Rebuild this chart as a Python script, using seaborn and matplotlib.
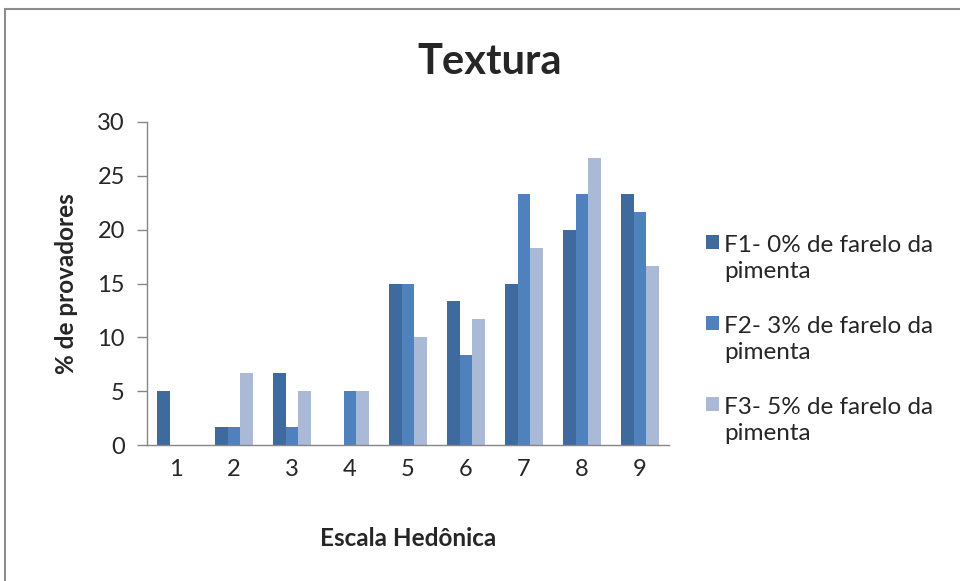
import matplotlib
matplotlib.use("Agg")
import matplotlib.pyplot as plt
import seaborn as sns
import pandas as pd
from matplotlib.patches import Rectangle, Patch
from matplotlib.legend_handler import HandlerPatch

escala = ["1", "2", "3", "4", "5", "6", "7", "8", "9"]
f1 = [5.0, 1.67, 6.67, 0.0, 15.0, 13.33, 15.0, 20.0, 23.33]
f2 = [0.0, 1.67, 1.67, 5.0, 15.0, 8.33, 23.33, 23.33, 21.67]
f3 = [0.0, 6.67, 5.0, 5.0, 10.0, 11.67, 18.33, 26.67, 16.67]
series = ["F1- 0% de farelo da pimenta",
          "F2- 3% de farelo da pimenta",
          "F3- 5% de farelo da pimenta"]
legend_labels = ["F1- 0% de farelo da\npimenta",
                 "F2- 3% de farelo da\npimenta",
                 "F3- 5% de farelo da\npimenta"]
colors = ["#3F6A9E", "#4F81BD", "#AAB9D6"]

df = pd.DataFrame({
    "Escala": escala * 3,
    "valor": f1 + f2 + f3,
    "Formulação": [series[0]] * 9 + [series[1]] * 9 + [series[2]] * 9,
})

sns.set_theme(style="white")
plt.rcParams["font.family"] = ["Lato", "DejaVu Sans"]

fig = plt.figure(figsize=(9.6, 5.81), dpi=100)
ax = fig.add_axes([147 / 960, 1 - 445 / 581, (669 - 147) / 960, (445 - 122) / 581])

sns.barplot(data=df, x="Escala", y="valor", hue="Formulação", order=escala,
            hue_order=series, palette=colors, width=0.67, saturation=1,
            errorbar=None, ax=ax, legend=False, linewidth=0)

ax.set_ylim(0, 30)
ax.set_yticks(range(0, 31, 5))
ax.set_xlim(-0.5, 8.5)
for s in ["top", "right"]:
    ax.spines[s].set_visible(False)
for s in ["left", "bottom"]:
    ax.spines[s].set_color("#868686")
    ax.spines[s].set_linewidth(1.0)
ax.tick_params(axis="y", which="major", direction="out", length=7, width=1,
               color="#868686", labelsize=17, pad=9, left=True)
ax.tick_params(axis="x", length=0, labelsize=17, pad=10)
ax.set_xlabel("Escala Hedônica", fontsize=17.5, fontweight="bold", labelpad=34)
ax.set_ylabel("% de provadores", fontsize=17.5, fontweight="bold", labelpad=14)

fig.suptitle("Textura", x=490 / 960, y=1 - 62 / 581, va="center",
             fontsize=30, fontweight="bold")


def top_square(legend, orig_handle, xdescent, ydescent, width, height, fontsize):
    # square sitting beside the first line of a two-line label
    size = 0.55 * fontsize
    return Rectangle((-xdescent, -ydescent + 0.72 * fontsize), size, size)


handles = [Patch(facecolor=c, edgecolor="none") for c in colors]
leg = fig.legend(handles, legend_labels, loc="upper left",
                 bbox_to_anchor=(684 / 960, 1 - 213 / 581), frameon=False,
                 fontsize=17.5, handlelength=0.55, handleheight=0.6,
                 handletextpad=0.2, labelspacing=1.4,
                 handler_map={Patch: HandlerPatch(patch_func=top_square)})
for t in leg.get_texts():
    t.set_linespacing(1.3)

fig.add_artist(Rectangle((5 / 960, -0.05), 1.1, 1 - 9 / 581 + 0.05,
                         transform=fig.transFigure, fill=False,
                         edgecolor="#8C8C8C", linewidth=1.5))

fig.savefig("out.png", dpi=100)
